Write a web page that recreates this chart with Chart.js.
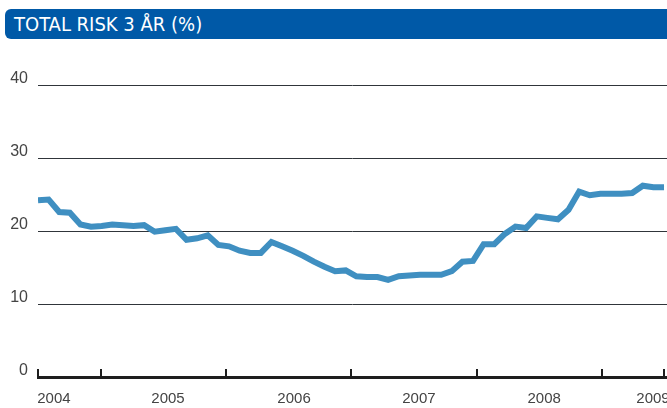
<!DOCTYPE html>
<html>
<head>
<meta charset="utf-8">
<script src="https://cdn.jsdelivr.net/npm/chart.js@4/dist/chart.umd.min.js"></script>
<style>
  html, body { margin: 0; padding: 0; background: #fff; }
  #wrap { position: relative; width: 667px; height: 408px; overflow: hidden; }
  #header {
    position: absolute; left: 5px; top: 9px; width: 672px; height: 30px;
    background: #0059a7; border-radius: 6px; color: #fff;
    font-family: "Liberation Sans Narrow", "DejaVu Sans Condensed", sans-serif;
    font-size: 20px; line-height: 30px; padding-left: 9px; box-sizing: border-box;
  }
  canvas { position: absolute; left: 0; top: 0; }
</style>
</head>
<body>
<div id="wrap">
  <canvas id="chart" width="667" height="408"></canvas>
  <div id="header">TOTAL RISK 3 ÅR (%)</div>
</div>
<script>
// monthly total risk, mid 2004 to mid 2009
const riskValues = [
  24.2, 24.3, 22.6, 22.5, 20.9, 20.6, 20.7, 20.9, 20.8, 20.7,
  20.8, 19.9, 20.1, 20.3, 18.8, 19.0, 19.4, 18.1, 17.9, 17.3,
  17.0, 17.0, 18.5, 17.9, 17.3, 16.6, 15.8, 15.1, 14.5, 14.6,
  13.8, 13.7, 13.7, 13.3, 13.8, 13.9, 14.0, 14.0, 14.0, 14.5,
  15.8, 15.9, 18.2, 18.2, 19.6, 20.6, 20.4, 22.0, 21.8, 21.6,
  22.9, 25.4, 24.9, 25.1, 25.1, 25.1, 25.2, 26.2, 26.0, 26.0
];

// month index where each year boundary tick sits
const boundaryTicks = [0, 5.94, 17.72, 29.5, 41.38, 53.16, 59];
const yearLabels = ["2004", "2005", "2006", "2007", "2008", "2009"];
const yearLabelPos = [1.5, 12.25, 24.13, 35.9, 47.7, 57.96];
const yTicks = [0, 10, 20, 30, 40];

const X_MAX = 59.28;

const points = riskValues.map((v, i) => ({ x: i, y: v }));

function noSidePadding(scale) {
  scale.paddingLeft = 0;
  scale.paddingRight = 0;
}

new Chart(document.getElementById("chart"), {
  type: "line",
  data: {
    datasets: [{
      data: points,
      borderColor: "#3f8fc1",
      borderWidth: 6,
      pointRadius: 0,
      tension: 0,
      fill: false,
    }],
  },
  options: {
    responsive: false,
    animation: false,
    layout: { padding: { top: 85, right: 0, bottom: 0, left: 0 } },
    plugins: { legend: { display: false }, tooltip: { enabled: false } },
    scales: {
      x: {
        type: "linear",
        position: "bottom",
        weight: 0,
        min: 0,
        max: X_MAX,
        afterBuildTicks: (scale) => {
          scale.ticks = boundaryTicks.map((v) => ({ value: v }));
        },
        afterFit: (scale) => {
          scale.height = 0;
          noSidePadding(scale);
        },
        ticks: { display: false },
        grid: {
          drawOnChartArea: false,
          drawTicks: true,
          tickLength: -8,
          color: "#1e1e1e",
          lineWidth: 2,
        },
        border: { display: true, color: "#1e1e1e", width: 3 },
      },
      x2: {
        type: "linear",
        position: "bottom",
        weight: 1,
        min: 0,
        max: X_MAX,
        afterBuildTicks: (scale) => {
          scale.ticks = yearLabelPos.map((v) => ({ value: v }));
        },
        afterFit: (scale) => {
          scale.height = 31;
          noSidePadding(scale);
        },
        ticks: {
          autoSkip: false,
          maxRotation: 0,
          padding: 5,
          color: "#444",
          font: { family: "Liberation Sans", size: 15 },
          callback: (value, index) => yearLabels[index],
        },
        grid: { display: false },
        border: { display: false },
      },
      y: {
        min: 0,
        max: 40,
        afterBuildTicks: (scale) => {
          scale.ticks = yTicks.map((v) => ({ value: v }));
        },
        afterFit: (scale) => { scale.width = 38; },
        ticks: {
          padding: 10,
          labelOffset: -6,
          color: "#444",
          font: { family: "Liberation Sans", size: 16 },
        },
        grid: {
          drawTicks: false,
          color: "#30353a",
          lineWidth: 1,
        },
        border: { display: false },
      },
    },
  },
});
</script>
</body>
</html>
